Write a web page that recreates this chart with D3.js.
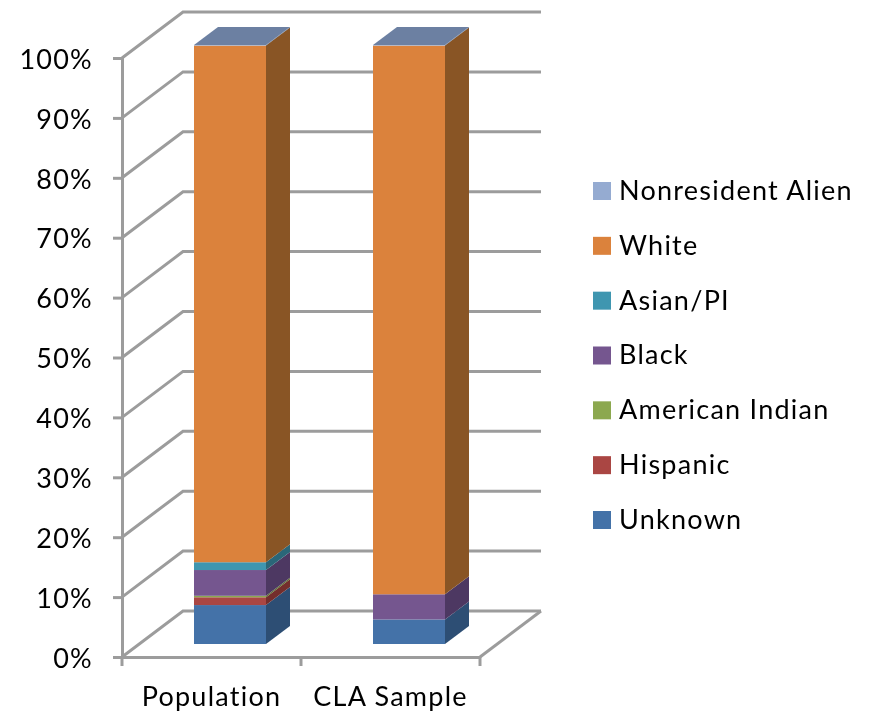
<!DOCTYPE html>
<html><head><meta charset="utf-8">
<script src="https://cdnjs.cloudflare.com/ajax/libs/d3/7.8.5/d3.min.js"></script>
<style>html,body{margin:0;padding:0;background:#fff}svg{display:block;filter:blur(0.4px)}text{font-family:Lato,"Open Sans",sans-serif;fill:#000;letter-spacing:1.25px}</style>
</head><body><script>
const categories = ["Population", "CLA Sample"];
const seriesNames = ["Unknown", "Hispanic", "American Indian", "Black", "Asian/PI", "White", "Nonresident Alien"];
const unknownValues = [6.5, 4.1];
const hispanicValues = [1.3, 0];
const americanIndianValues = [0.25, 0];
const blackValues = [4.3, 4.2];
const asianValues = [1.3, 0];
const whiteValues = [86.25, 91.6];
const nonresidentValues = [0.1, 0.1];
const seriesValues = [unknownValues, hispanicValues, americanIndianValues, blackValues, asianValues, whiteValues, nonresidentValues];
const frontColors = ["#4472A8", "#AA4643", "#8CA84F", "#75568F", "#3F96B0", "#DB823C", "#95ABD1"];
const sideColors = ["#2D4E74", "#742E2C", "#5F7335", "#4D3862", "#2A6678", "#895525", "#65758F"];
const tickValues = d3.range(0, 101, 10);

const width = 871, height = 717;
const svg = d3.select("body").append("svg").attr("width", width).attr("height", height);
const grey = "#9C9C9C";

const wallY = d3.scaleLinear().domain([0, 100]).range([657, 58]);
const barY = d3.scaleLinear().domain([0, 100]).range([644, 45]);
const x = d3.scaleBand().domain(categories).range([122, 480]).paddingInner(0).paddingOuter(0);
const barW = 72, depthX = 24, depthY = 18, wallDX = 61, wallDY = 46;
const barX = c => x(c) + x.bandwidth() / 2 - barW / 2 + 18.5;

// gridlines on side and back walls
const grid = d3.line();
svg.append("g").selectAll("path").data(tickValues).join("path")
  .attr("fill", "none").attr("stroke", grey).attr("stroke-width", 3)
  .attr("d", t => grid([[x.range()[0], wallY(t)], [x.range()[0] + wallDX, wallY(t) - wallDY], [x.range()[1] + wallDX, wallY(t) - wallDY]]));
// floor right edge
svg.append("path").attr("fill", "none").attr("stroke", grey).attr("stroke-width", 3)
  .attr("d", grid([[x.range()[1], wallY(0)], [x.range()[1] + wallDX, wallY(0) - wallDY]]));

// y axis
const yAxis = d3.axisLeft(wallY).tickValues(tickValues).tickFormat(d => d + "%").tickSize(9).tickPadding(20);
const gy = svg.append("g").attr("transform", "translate(122,0)").call(yAxis);
gy.select(".domain").attr("stroke", grey).attr("stroke-width", 3);
gy.selectAll(".tick line").attr("stroke", grey).attr("stroke-width", 3);
gy.selectAll("text").attr("font-size", 27).attr("font-family", "Lato").attr("fill", "#000").attr("dy", "0.38em");

// x axis
const xAxis = d3.axisBottom(x).tickSize(0).tickPadding(30);
const gx = svg.append("g").attr("transform", "translate(0,657)").call(xAxis);
gx.select(".domain").attr("stroke", grey).attr("stroke-width", 3);
gx.selectAll("text").attr("font-size", 27).attr("font-family", "Lato").attr("fill", "#000").attr("dy", "0.71em");
svg.append("g").selectAll("line").data([0, 1, 2]).join("line")
  .attr("x1", i => x.range()[0] + i * x.bandwidth()).attr("x2", i => x.range()[0] + i * x.bandwidth())
  .attr("y1", 657).attr("y2", 666).attr("stroke", grey).attr("stroke-width", 3);

// bars
categories.forEach((c, ci) => {
  const g = svg.append("g");
  const x0 = barX(c);
  let base = 0;
  seriesValues.forEach((vals, si) => {
    const v = vals[ci];
    if (v > 0) {
      const y0 = barY(base), y1 = barY(base + v);
      g.append("polygon").attr("fill", sideColors[si])
        .attr("points", [[x0 + barW, y0], [x0 + barW + depthX, y0 - depthY], [x0 + barW + depthX, y1 - depthY], [x0 + barW, y1]].join(" "));
      g.append("rect").attr("x", x0).attr("y", y1).attr("width", barW).attr("height", y0 - y1).attr("fill", frontColors[si]);
    }
    base += v;
  });
  const top = barY(base);
  g.append("polygon").attr("fill", "#6C80A2")
    .attr("points", [[x0, top], [x0 + depthX, top - depthY], [x0 + barW + depthX, top - depthY], [x0 + barW, top]].join(" "));
});

// legend
const legendY = d3.scalePoint().domain(seriesNames).range([520, 191]);
const lg = svg.append("g").selectAll("g").data(seriesNames).join("g")
  .attr("transform", d => `translate(593,${legendY(d)})`);
lg.append("rect").attr("x", 0).attr("y", -9).attr("width", 18).attr("height", 18).attr("fill", (d, i) => frontColors[i]);
lg.append("text").attr("x", 26).attr("dy", "0.33em").attr("font-size", 27).text(d => d);
</script></body></html>
